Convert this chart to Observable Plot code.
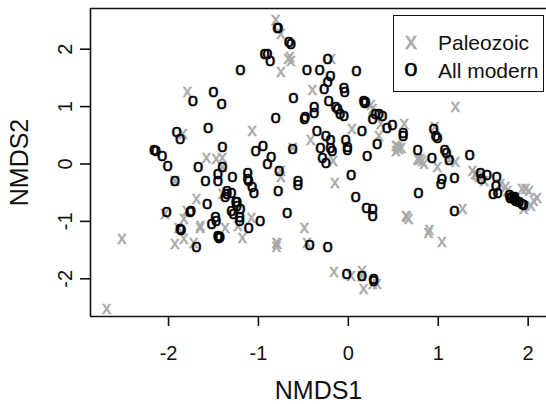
<!DOCTYPE html>
<html>
<head>
<meta charset="utf-8">
<script src="https://cdn.jsdelivr.net/npm/d3@7"></script>
<script src="https://cdn.jsdelivr.net/npm/@observablehq/plot@0.6"></script>
<style>
  html, body { margin: 0; padding: 0; background: #fff; }
  #wrap { position: relative; width: 546px; height: 404px; overflow: hidden; font-family: "Liberation Sans", Arial, sans-serif; }
  #legend { position: absolute; left: 393px; top: 15px; width: 151px; height: 77px; box-sizing: border-box; border: 1.5px solid #111; background: #fff; }
</style>
</head>
<body>
<div id="wrap"><div id="legend"></div></div>
<script>
// NMDS scores (NMDS1, NMDS2)
const paleozoic = [
  [-1.79,1.25],[-1.84,0.52],[-1.58,0.11],[-1.47,0.09],[-1.40,0.10],[-1.69,-0.61],[-1.80,-0.82],
  [-1.83,-0.96],[-1.89,-1.11],[-1.65,-1.08],[-1.65,-1.12],[-1.37,-1.11],[-1.93,-1.40],[-1.83,-1.31],
  [-1.72,-1.38],[-2.52,-1.31],[-2.69,-2.53],[-2.04,-0.87],[-1.40,-0.52],[-0.75,-0.12],[-0.75,-0.22],
  [-1.08,-0.95],[-1.23,-1.08],[-1.18,-1.29],[-0.80,-1.37],[-0.80,-1.44],[-0.79,-1.40],[-0.81,2.50],
  [-0.75,2.27],[-0.65,1.86],[-0.64,1.80],[-0.67,1.83],[-0.75,1.60],[-0.19,1.83],[-0.40,1.29],
  [0.25,1.02],[0.27,0.96],[-0.42,0.41],[-1.07,0.58],[0.04,0.60],[0.34,0.49],[0.36,0.70],[0.62,0.70],
  [0.53,0.32],[0.56,0.26],[0.53,0.23],[0.55,0.29],[0.59,0.28],[0.77,0.09],[-0.17,0.05],[-0.15,-0.33],
  [-0.49,-1.12],[-0.46,-1.38],[-0.16,-1.88],[0.03,-1.96],[0.15,-1.86],[0.17,-2.18],[0.27,-2.09],
  [0.32,-2.09],[0.64,-0.90],[0.67,-0.96],[0.65,-0.93],[1.19,1.00],[0.80,0.09],[0.84,0.00],[0.78,0.06],
  [0.82,0.05],[0.99,-0.06],[1.19,0.04],[0.96,0.64],[1.27,-0.79],[1.38,-0.12],[1.41,-0.17],[1.43,-0.20],
  [1.45,-0.23],[1.51,-0.29],[1.69,-0.35],[1.75,-0.41],[1.77,-0.47],[1.93,-0.44],[1.97,-0.44],
  [2.01,-0.47],[2.06,-0.64],[2.03,-0.73],[2.10,-0.59],[0.90,-1.16],[0.89,-1.20],[1.04,-1.36],
  [1.12,0.06],[-0.62,0.28],[-1.93,-0.30],[-1.40,-0.06],[0.15,-1.95],[1.95,-0.78]
];
const allModern = [
  [-1.20,1.63],[-1.73,1.10],[-1.50,1.25],[-1.41,1.04],[-1.56,0.63],[-1.91,0.56],[-1.87,0.44],
  [-1.40,0.29],[-2.16,0.24],[-2.14,0.22],[-2.07,0.13],[-2.01,-0.03],[-1.40,-0.06],[-1.67,-0.06],
  [-1.29,-0.22],[-1.45,-0.17],[-1.45,-0.29],[-1.59,-0.29],[-1.93,-0.30],[-1.35,-0.47],[-1.30,-0.50],
  [-1.37,-0.58],[-1.35,-0.52],[-1.57,-0.70],[-2.02,-0.84],[-1.76,-0.84],[-1.75,-0.82],[-1.30,-0.82],
  [-1.28,-0.87],[-1.48,-0.92],[-1.47,-0.99],[-1.52,-1.05],[-1.86,-1.15],[-1.87,-1.14],[-1.44,-1.27],
  [-1.43,-1.28],[-1.45,-1.26],[-1.44,-1.29],[-1.69,-1.44],[-1.12,-0.15],[-1.12,-0.26],[-1.11,-0.29],
  [-1.03,0.23],[-0.95,0.32],[-0.86,0.12],[-0.90,-0.01],[-0.77,-0.12],[-0.78,-0.48],[-0.68,-0.86],
  [-1.07,-0.41],[-1.05,-0.50],[-1.24,-0.67],[-1.25,-0.66],[-1.24,-0.73],[-1.20,-0.79],[-1.21,-0.93],
  [-1.21,-0.99],[-0.98,-0.99],[-1.11,-1.11],[-0.79,2.36],[-0.78,2.37],[-0.66,2.12],[-0.64,2.09],
  [-0.93,1.92],[-0.90,1.92],[-0.87,1.79],[-0.46,1.63],[-0.32,1.63],[-0.23,1.83],[-0.20,1.54],
  [-0.23,1.42],[-0.27,1.31],[-0.61,1.15],[0.09,1.62],[-0.05,1.33],[-0.04,1.25],[-0.22,1.10],
  [-0.14,1.00],[-0.12,0.96],[-0.09,0.87],[-0.05,0.83],[-0.38,0.99],[-0.38,0.88],[-0.48,0.81],
  [-0.49,0.79],[-0.81,0.80],[0.17,1.10],[0.19,1.08],[0.18,1.06],[0.30,0.87],[0.34,0.87],[0.38,0.84],
  [0.27,0.79],[0.43,0.62],[0.49,0.67],[-0.35,0.58],[-0.62,0.26],[-0.25,0.48],[-0.31,0.27],
  [-0.20,0.28],[-0.18,0.23],[-0.29,0.10],[-0.25,0.01],[-0.20,0.42],[-0.03,0.41],[-0.01,0.29],
  [-0.01,0.25],[0.15,0.58],[0.32,0.34],[0.21,0.14],[0.61,0.54],[0.61,0.48],[0.77,0.24],
  [-0.56,-0.29],[-0.56,-0.36],[0.03,-0.19],[0.08,-0.58],[0.78,-0.50],[0.20,-0.76],[0.27,-0.79],
  [0.27,-0.90],[-0.43,-1.41],[-0.23,-1.44],[-0.02,-1.92],[0.15,-1.95],[0.28,-2.00],[0.28,-2.04],
  [0.95,0.61],[0.97,0.49],[0.99,0.46],[1.07,0.25],[1.09,0.19],[1.12,0.06],[0.93,0.10],[1.35,0.15],
  [1.04,-0.26],[1.03,-0.35],[1.18,-0.24],[1.18,-0.82],[1.47,-0.16],[1.48,-0.26],[1.54,-0.20],
  [1.65,-0.22],[1.64,-0.38],[1.61,-0.52],[1.66,-0.50],[1.79,-0.55],[1.82,-0.58],[1.84,-0.61],
  [1.86,-0.64],[1.90,-0.67],[1.93,-0.70],[1.95,-0.71],[1.80,-0.60],[1.85,-0.57]
];
const xTicks = [-2, -1, 0, 1, 2];
const xTickLabels = ["-2", "-1", "0", "1", "2"];
const yTicks = [-2, -1, 0, 1, 2];
const yTickLabels = ["-2", "-1", "0", "1", "2"];
const xDomain = [-2.868, 2.204];
const yDomain = [-2.657, 2.709];
const seriesNames = ["Paleozoic", "All modern"];
const seriesSymbols = ["x", "o"];
const seriesColors = ["#a9a9a9", "#000000"];
const xTitle = "NMDS1";
const yTitle = "NMDS2";

const FONT = '"Liberation Sans", Arial, sans-serif';
const ink = "#111";

const chart = Plot.plot({
  width: 546,
  height: 404,
  marginLeft: 90,
  marginRight: 0,
  marginTop: 8,
  marginBottom: 88,
  style: { fontFamily: FONT, background: "#fff", overflow: "visible" },
  x: { domain: xDomain },
  y: { domain: yDomain },
  marks: [
    Plot.text(paleozoic, {
      x: d => d[0], y: d => d[1], text: () => seriesSymbols[0],
      fill: seriesColors[0], stroke: seriesColors[0], strokeWidth: 0.5,
      fontSize: 18.5, lineAnchor: "middle", dy: -1
    }),
    Plot.text(allModern, {
      x: d => d[0], y: d => d[1], text: () => seriesSymbols[1],
      fill: seriesColors[1], stroke: seriesColors[1], strokeWidth: 0.5,
      fontSize: 18.5, lineAnchor: "middle", dy: -1
    }),
    Plot.ruleX([xDomain[0]], { stroke: ink, strokeWidth: 1.6 }),
    Plot.ruleY(yDomain, { stroke: ink, strokeWidth: 1.6 }),
    Plot.axisX({
      ticks: xTicks, tickSize: 10, tickPadding: 19, fontSize: 20,
      tickFormat: d => xTickLabels[xTicks.indexOf(d)],
      stroke: ink, strokeWidth: 1.6, fill: ink, label: null
    }),
    Plot.axisY({
      ticks: yTicks, tickSize: 10, tickPadding: 9, tickRotate: -90, fontSize: 20,
      tickFormat: d => yTickLabels[yTicks.indexOf(d)],
      stroke: ink, strokeWidth: 1.6, fill: ink, label: null
    }),
    Plot.text([xTitle], {
      frameAnchor: "bottom", text: d => d, dy: 82, lineAnchor: "bottom",
      textAnchor: "middle", fontSize: 25, fill: ink
    }),
    Plot.text([yTitle], {
      frameAnchor: "left", text: d => d, dx: -63, rotate: -90, lineAnchor: "bottom",
      textAnchor: "middle", fontSize: 25, fill: ink
    })
  ]
});
document.getElementById("wrap").insertBefore(chart, document.getElementById("legend"));

// legend
const lg = d3.select("#legend").append("svg").attr("width", 148).attr("height", 74)
  .style("font-family", FONT).style("display", "block");
const rows = [0, 1];
rows.forEach(i => {
  lg.append("text")
    .attr("x", 17).attr("y", i === 0 ? 33 : 60)
    .attr("text-anchor", "middle").attr("font-size", 24)
    .attr("fill", seriesColors[i]).attr("stroke", seriesColors[i]).attr("stroke-width", 0.5)
    .text(seriesSymbols[i]);
  lg.append("text")
    .attr("x", 44).attr("y", i === 0 ? 33.5 : 61.5)
    .attr("font-size", 21).attr("fill", ink).text(seriesNames[i]);
});
</script>
</body>
</html>
